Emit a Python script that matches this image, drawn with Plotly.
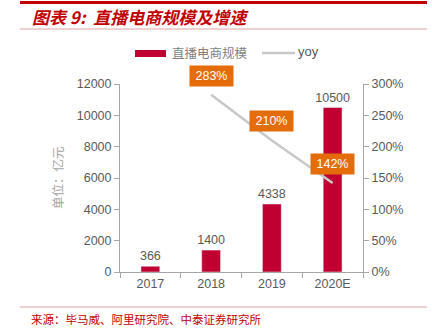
import plotly.graph_objects as go

categories = ["2017", "2018", "2019", "2020E"]
gmv = [366, 1400, 4338, 10500]
yoy_categories = ["2018", "2019", "2020E"]
yoy = [283, 210, 142]
left_ticks = [0, 2000, 4000, 6000, 8000, 10000, 12000]
right_ticks = [0, 50, 100, 150, 200, 250, 300]

W, H = 432, 330
L, R, T, B = 120, 363, 84, 272

def px(x):
    return (x - L) / (R - L)

def py(y):
    return (B - y) / (B - T)

BAR = "#C00030"
ORANGE = "#E46C0A"
GREY_LINE = "#C8C8C8"
TXT = "#595959"
AXIS = "#A6A6A6"
FONT = "Liberation Sans, Arial, sans-serif"
CJK = "Noto Sans CJK SC"

fig = go.Figure()
fig.add_trace(go.Bar(
    x=categories, y=gmv, name="直播电商规模", marker_color=BAR,
    width=0.31, text=[str(v) for v in gmv], textposition="outside",
    constraintext="none",
    textfont=dict(color=TXT, size=12.5, family=FONT), cliponaxis=False,
    showlegend=False,
))
fig.add_trace(go.Scatter(
    x=yoy_categories, y=yoy, name="yoy", yaxis="y2", mode="lines",
    line=dict(color=GREY_LINE, width=2.5), showlegend=False,
))

annotations = []
for c, v in zip(yoy_categories, yoy):
    annotations.append(dict(
        x=categories.index(c), y=v, xref="x", yref="y2", text=f"{v}%", showarrow=False,
        yshift=19, bgcolor=ORANGE, width=39, height=16, borderpad=2,
        font=dict(color="white", size=12.5, family=FONT),
    ))

# title
annotations.append(dict(
    x=px(30), y=py(17), xref="paper", yref="paper", xanchor="left", yanchor="middle",
    text="<b><i>图表 9:  直播电商规模及增速</i></b>", showarrow=False,
    font=dict(color="#C00000", size=17, family=CJK),
))
# legend texts
annotations.append(dict(
    x=px(170), y=py(53), xref="paper", yref="paper", xanchor="left", yanchor="middle",
    text="直播电商规模", showarrow=False, font=dict(color="#7F7F7F", size=12.5, family=CJK),
))
annotations.append(dict(
    x=px(296), y=py(52), xref="paper", yref="paper", xanchor="left", yanchor="middle",
    text="yoy", showarrow=False, font=dict(color=TXT, size=13, family=FONT),
))
# y-axis title
annotations.append(dict(
    x=px(57), y=py(178), xref="paper", yref="paper", xanchor="center", yanchor="middle",
    text="单位：亿元", textangle=-90, showarrow=False,
    font=dict(color="#A6A6A6", size=12.5, family=CJK),
))
# source
annotations.append(dict(
    x=px(29), y=py(319), xref="paper", yref="paper", xanchor="left", yanchor="middle",
    text="来源：毕马威、阿里研究院、中泰证券研究所", showarrow=False,
    font=dict(color="#C00000", size=11.5, family=CJK),
))

shapes = [
    dict(type="line", xref="paper", yref="paper", x0=px(20), x1=px(427), y0=py(2.5), y1=py(2.5),
         line=dict(color="#C00000", width=3)),
    dict(type="line", xref="paper", yref="paper", x0=px(20), x1=px(427), y0=py(29), y1=py(29),
         line=dict(color="#E0A0A0", width=1)),
    dict(type="line", xref="paper", yref="paper", x0=px(20), x1=px(427), y0=py(307), y1=py(307),
         line=dict(color="#E0A0A0", width=1)),
    dict(type="rect", xref="paper", yref="paper", x0=px(135), x1=px(166), y0=py(57), y1=py(50),
         fillcolor=BAR, line=dict(width=0)),
    dict(type="line", xref="paper", yref="paper", x0=px(262), x1=px(295), y0=py(53), y1=py(53),
         line=dict(color=GREY_LINE, width=2.5)),
]

fig.update_layout(
    width=W, height=H, margin=dict(l=L, r=W - R, t=T, b=H - B),
    paper_bgcolor="white", plot_bgcolor="white", showlegend=False,
    font=dict(family=FONT, color=TXT, size=12.5),
    annotations=annotations, shapes=shapes,
    xaxis=dict(type="category", categoryorder="array", categoryarray=categories,
               range=[-0.5, len(categories) - 0.5],
               showline=True, linecolor=AXIS, linewidth=1, ticks="outside",
               tickson="boundaries", ticklen=5, tickcolor=AXIS, tickangle=0,
               tickfont=dict(color=TXT, size=12.5), showgrid=False),
    yaxis=dict(range=[0, 12000], tickvals=left_ticks, tickformat="d", showline=True, linecolor=AXIS,
               linewidth=1, ticks="outside", ticklen=5, tickcolor=AXIS, showgrid=False,
               zeroline=False, tickfont=dict(color=TXT, size=12.5)),
    yaxis2=dict(range=[0, 300], tickvals=right_ticks, ticktext=[f"{t}%" for t in right_ticks],
                overlaying="y", side="right", showline=True, linecolor=AXIS, linewidth=1,
                ticks="outside", ticklen=5, tickcolor=AXIS, showgrid=False, zeroline=False,
                tickfont=dict(color=TXT, size=12.5)),
)

fig.write_html("out.html")
